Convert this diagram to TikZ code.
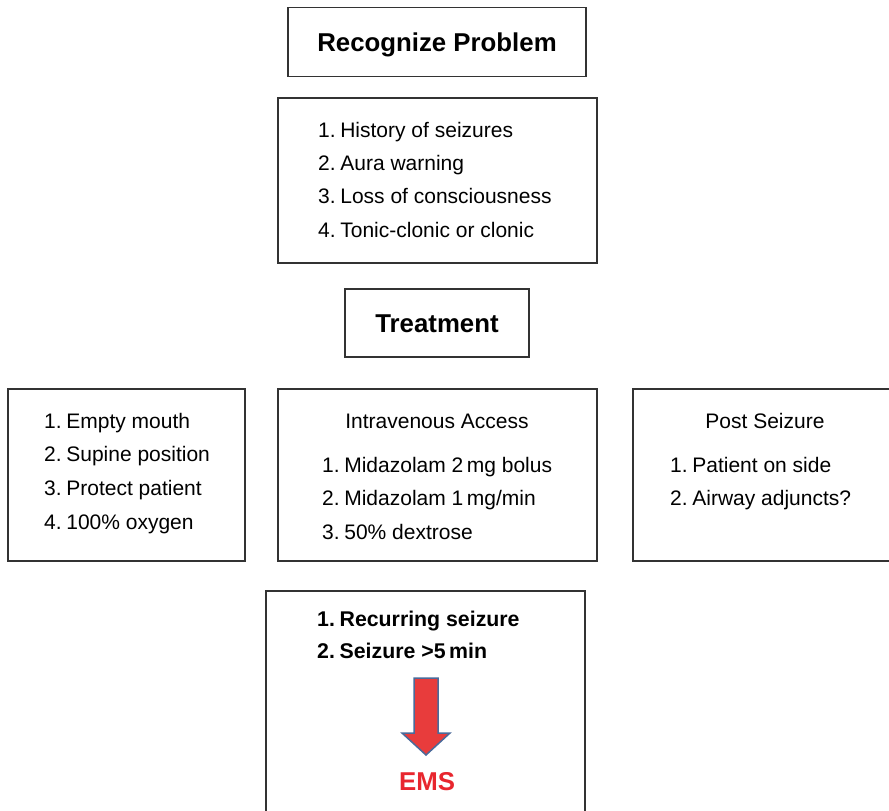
\documentclass[tikz,border=0pt]{standalone}
\usepackage{fontspec}
\setmainfont{Liberation Sans}
\definecolor{boxline}{HTML}{333333}
\definecolor{arrowred}{HTML}{E83C3C}
\definecolor{arrowedge}{HTML}{4A6A9A}
\definecolor{emsred}{HTML}{E8262E}
\tikzset{
  box/.style={draw=boxline, line width=1.3pt, fill=white, inner sep=0pt},
  item/.style={anchor=base west, inner sep=0pt, font=\fontsize{21}{25}\selectfont},
  head/.style={anchor=base, inner sep=0pt, font=\fontsize{21}{25}\selectfont},
  bolditem/.style={anchor=base west, inner sep=0pt, font=\fontsize{21.3}{25}\selectfont\bfseries},
  title/.style={anchor=base, inner sep=0pt, font=\fontsize{25.8}{30}\selectfont\bfseries},
}
\newcommand{\nsp}{\hspace{0.22em}}
\begin{document}
\begin{tikzpicture}[x=1pt,y=-1pt]
\useasboundingbox (0,0) rectangle (889,811);
% boxes
\node[box, minimum width=298pt, minimum height=69pt] (recbox) at (437,42) {};
\node[box, minimum width=319pt, minimum height=165pt] (signbox) at (437.5,180.5) {};
\node[box, minimum width=184pt, minimum height=68pt] (treatbox) at (437,323) {};
\node[box, minimum width=237pt, minimum height=172pt] (leftbox) at (126.5,475) {};
\node[box, minimum width=319pt, minimum height=172pt] (midbox) at (437.5,475) {};
\node[box, minimum width=280pt, minimum height=172pt] (rightbox) at (773,475) {};
\node[box, minimum width=319pt, minimum height=240pt] (emsbox) at (425.5,711) {};
% titles
\node[title] (rectitle) at (437,51.5) {Recognize Problem};
\node[title] (treattitle) at (437,332.5) {Treatment};
% signs
\node[item] (s1) at (318,137.5) {1.\nsp History of seizures};
\node[item] (s2) at (318,170.5) {2.\nsp Aura warning};
\node[item] (s3) at (318,203.5) {3.\nsp Loss of consciousness};
\node[item] (s4) at (318,237.5) {4.\nsp Tonic-clonic or clonic};
% left
\node[item] (l1) at (44,428.5) {1.\nsp Empty mouth};
\node[item] (l2) at (44,461.5) {2.\nsp Supine position};
\node[item] (l3) at (44,495.5) {3.\nsp Protect patient};
\node[item] (l4) at (44,529.5) {4.\nsp 100\% oxygen};
% middle
\node[head] (mhead) at (437,428.5) {Intravenous Access};
\node[item] (m1) at (322,472.5) {1.\nsp Midazolam 2\,mg bolus};
\node[item] (m2) at (322,505.5) {2.\nsp Midazolam 1\,mg/min};
\node[item] (m3) at (322,539.5) {3.\nsp 50\% dextrose};
% right
\node[head] (rhead) at (765,428.5) {Post Seizure};
\node[item] (r1) at (670,472.5) {1.\nsp Patient on side};
\node[item] (r2) at (670,505.5) {2.\nsp Airway adjuncts?};
% bottom
\node[bolditem] (b1) at (317,626.5) {1.\nsp Recurring seizure};
\node[bolditem] (b2) at (317,658.5) {2.\nsp Seizure >5\,min};
\draw[fill=arrowred, draw=arrowedge, line width=1.5pt, line join=miter]
  (414,678) -- (438,678) -- (438,733) -- (450,733) -- (426,755) -- (402,733) -- (414,733) -- cycle;
\node[title, text=emsred] (ems) at (427,790) {EMS};
\end{tikzpicture}
\end{document}
